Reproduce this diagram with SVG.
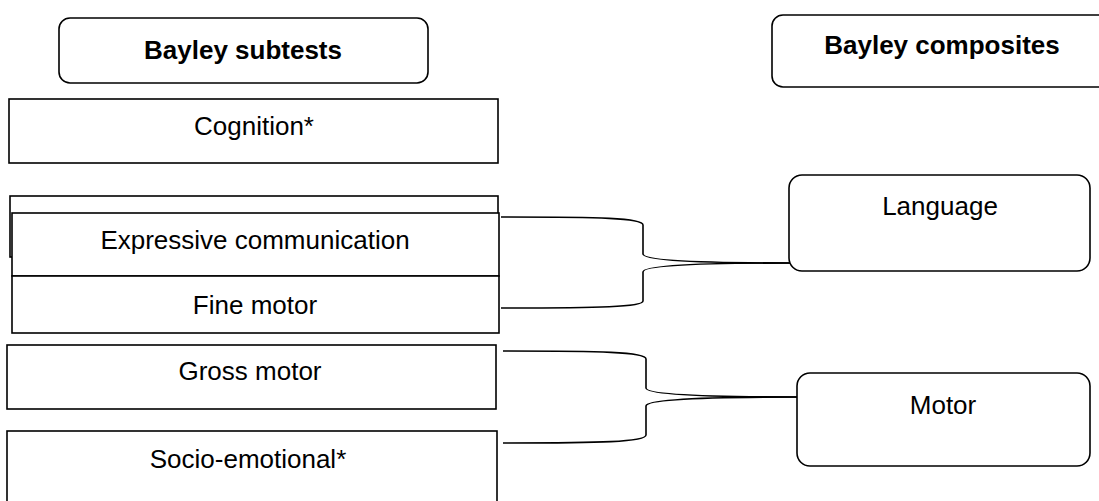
<svg xmlns="http://www.w3.org/2000/svg" width="1099" height="501" viewBox="0 0 1099 501">
<style>
.box{fill:#fff;stroke:#000;stroke-width:1.6}
.t{font-family:"Liberation Sans",Arial,sans-serif;font-size:26px;fill:#000;text-anchor:middle}
.b{font-weight:bold}
.c{fill:none;stroke:#000;stroke-width:1.6}
</style>
<rect width="1099" height="501" fill="#fff"/>
<g id="hdr-subtests"><rect class="box" x="59" y="18" width="369" height="65" rx="11"/><text class="t b" x="243" y="59">Bayley subtests</text></g>
<g id="hdr-composites"><rect class="box" x="772" y="15" width="340" height="72" rx="11"/><text class="t b" x="942" y="54">Bayley composites</text></g>
<g id="cognition"><rect class="box" x="9" y="99" width="489" height="64"/><text class="t" x="254" y="135">Cognition*</text></g>
<g id="receptive"><rect class="box" x="10" y="196" width="488" height="61"/></g>
<g id="expressive"><rect class="box" x="12" y="213" width="487" height="63"/><text class="t" x="255" y="249">Expressive communication</text></g>
<g id="fine-motor"><rect class="box" x="12" y="276" width="487" height="57"/><text class="t" x="255" y="314">Fine motor</text></g>
<g id="gross-motor"><rect class="box" x="7" y="345" width="489" height="64"/><text class="t" x="250" y="380">Gross motor</text></g>
<g id="socio-emotional"><rect class="box" x="7" y="431" width="490" height="80"/><text class="t" x="248" y="468">Socio-emotional*</text></g>
<g id="language"><rect class="box" x="789" y="175" width="301" height="96" rx="13"/><text class="t" x="940" y="215">Language</text></g>
<g id="motor"><rect class="box" x="797" y="373" width="293" height="93" rx="13"/><text class="t" x="943" y="414">Motor</text></g>
<g id="connectors">
<path class="c" d="M501 217 C600 217 643 218 643 225 L643 254 C643 260 690 263 790 263"/>
<path class="c" d="M501 308 C600 308 643 307 643 301 L643 272 C643 266 690 263 790 263"/>
<path class="c" d="M503 351 C600 351 646 352 646 359 L646 388 C646 394 700 397 797 397"/>
<path class="c" d="M503 443 C600 443 646 442 646 435 L646 406 C646 400 700 397 797 397"/>
</g>
</svg>
